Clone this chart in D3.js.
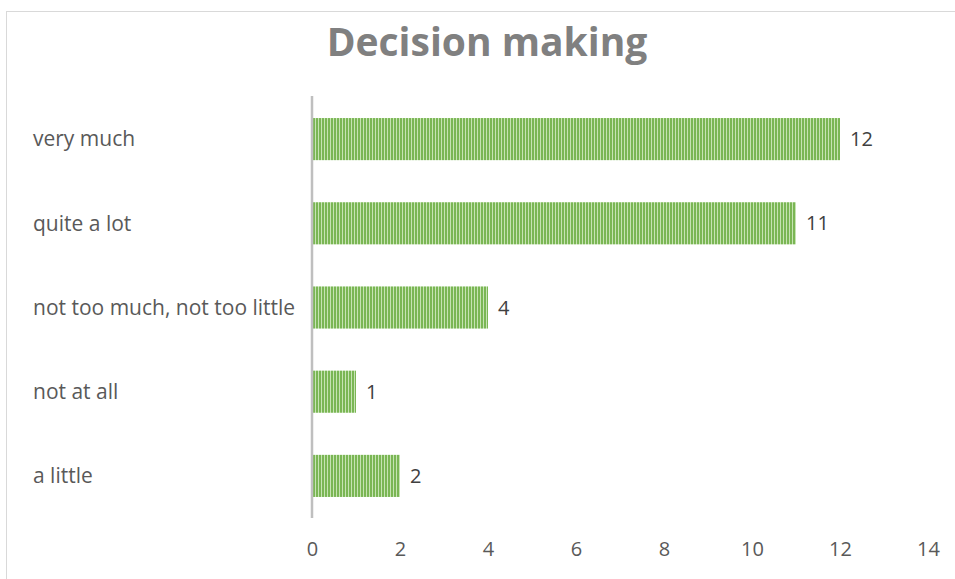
<!DOCTYPE html>
<html><head><meta charset="utf-8">
<script src="https://cdn.jsdelivr.net/npm/d3@7"></script>
<style>body{margin:0;background:#fff;} svg{display:block;}</style>
</head><body>
<script>
const categories = ["very much", "quite a lot", "not too much, not too little", "not at all", "a little"];
const values = [12, 11, 4, 1, 2];
const tickValues = [0, 2, 4, 6, 8, 10, 12, 14];
const title = "Decision making";

const W = 955, H = 579;
const svg = d3.select("body").append("svg").attr("width", W).attr("height", H);
const font = "'Open Sans', 'Noto Sans', sans-serif";

// chart border
svg.append("rect").attr("x", 6.5).attr("y", 11.5).attr("width", W + 10).attr("height", H + 10)
  .attr("fill", "#fff").attr("stroke", "#d9d9d9").attr("stroke-width", 1);

const defs = svg.append("defs");
const pat = defs.append("pattern").attr("id", "stripes").attr("patternUnits", "userSpaceOnUse")
  .attr("width", 3).attr("height", 10).attr("x", 313);
pat.append("rect").attr("width", 3).attr("height", 10).attr("fill", "#c6e3b3");
pat.append("rect").attr("width", 2).attr("height", 10).attr("fill", "#7ab654");

const x = d3.scaleLinear().domain([0, 14]).range([312, 928]);
const y = d3.scaleBand().domain(categories).range([97, 518]).paddingInner(0.5).paddingOuter(0.25);

svg.append("text").attr("x", 487).attr("y", 56).attr("text-anchor", "middle")
  .attr("font-family", font).attr("font-weight", "bold").attr("font-size", 39)
  .attr("fill", "#808080").text(title);

svg.selectAll("rect.bar").data(categories).join("rect").attr("class", "bar")
  .attr("x", x(0)).attr("y", d => y(d))
  .attr("width", (d, i) => x(values[i]) - x(0)).attr("height", y.bandwidth())
  .attr("fill", "url(#stripes)");

svg.selectAll("text.val").data(categories).join("text").attr("class", "val")
  .attr("x", (d, i) => x(values[i]) + 10).attr("y", d => y(d) + y.bandwidth() / 2)
  .attr("dy", "0.35em").attr("font-family", font).attr("font-size", 20).attr("fill", "#404040")
  .text((d, i) => values[i]);

svg.selectAll("text.cat").data(categories).join("text").attr("class", "cat")
  .attr("x", 33).attr("y", d => y(d) + y.bandwidth() / 2)
  .attr("dy", "0.35em").attr("font-family", font).attr("font-size", 21).attr("fill", "#595959")
  .text(d => d);

// value axis (tick labels only)
const xAxis = svg.append("g").attr("transform", "translate(0,549)")
  .call(d3.axisBottom(x).tickValues(tickValues).tickSize(0).tickPadding(0));
xAxis.select(".domain").remove();
xAxis.selectAll("text").attr("font-family", font).attr("font-size", 20).attr("fill", "#595959")
  .attr("y", 0).attr("dy", "0.35em");

// category axis line
svg.append("line").attr("x1", x(0)).attr("x2", x(0)).attr("y1", 96).attr("y2", 518)
  .attr("stroke", "#bfbfbf").attr("stroke-width", 2.5);
</script>
</body></html>
